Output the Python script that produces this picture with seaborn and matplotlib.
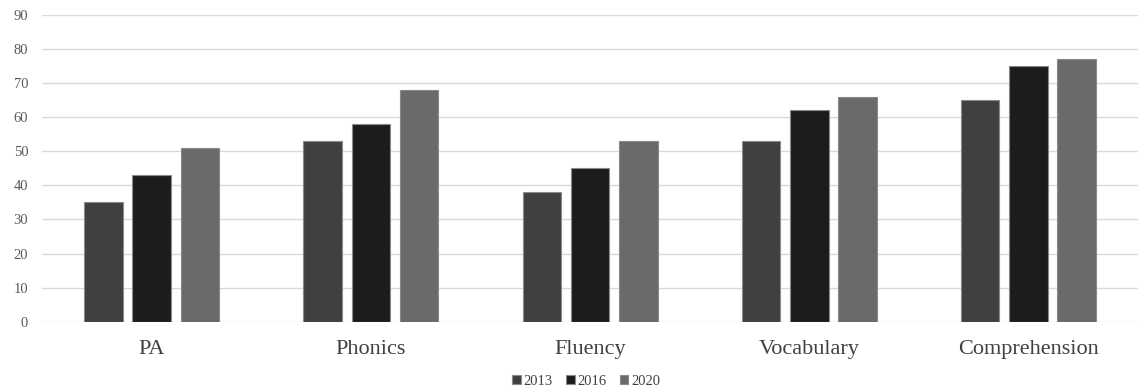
import numpy as np
import pandas as pd
import seaborn as sns
import matplotlib.pyplot as plt

skills = ['PA', 'Phonics', 'Fluency', 'Vocabulary', 'Comprehension']
years = ['2013', '2016', '2020']
scores_2013 = [35, 53, 38, 53, 65]
scores_2016 = [43, 58, 45, 62, 75]
scores_2020 = [51, 68, 53, 66, 77]

df = pd.DataFrame({
    'skill': skills * 3,
    'year': [y for y in years for _ in skills],
    'score': scores_2013 + scores_2016 + scores_2020,
})

sns.set_theme(style='white')
plt.rcParams['font.family'] = ['Liberation Serif', 'DejaVu Serif']

fig, ax = plt.subplots(figsize=(11.38, 3.91), dpi=100)
fig.subplots_adjust(left=0.037, right=1.0, top=0.962, bottom=0.177)

palette = {'2013': '#404040', '2016': '#1c1c1c', '2020': '#6a6a6a'}
sns.barplot(data=df, x='skill', y='score', hue='year', order=skills,
            hue_order=years, palette=palette, width=0.66, gap=0.2,
            edgecolor='#8a8a8a', linewidth=0.8, saturation=1,
            legend=True, ax=ax, zorder=3)

ax.set_ylim(0, 90)
ax.set_yticks(np.arange(0, 91, 10))
ax.yaxis.grid(True, color='#d9d9d9', linewidth=1.0, zorder=0)
ax.set_axisbelow(True)
for s in ax.spines.values():
    s.set_visible(False)
ax.set_xlabel('')
ax.set_ylabel('')
ax.tick_params(axis='y', labelsize=10.5, colors='#595959', length=0, pad=10)
ax.tick_params(axis='x', labelsize=16, colors='#404040', length=0, pad=13)

handles, labels = ax.get_legend_handles_labels()
ax.get_legend().remove()
fig.legend(handles, labels, loc='lower center', ncol=3, frameon=False,
           fontsize=10.5, handlelength=0.6, handleheight=0.6,
           handletextpad=0.2, columnspacing=0.9,
           bbox_to_anchor=(0.515, -0.025), labelcolor='#404040')

fig.savefig('out.png', dpi=100)
